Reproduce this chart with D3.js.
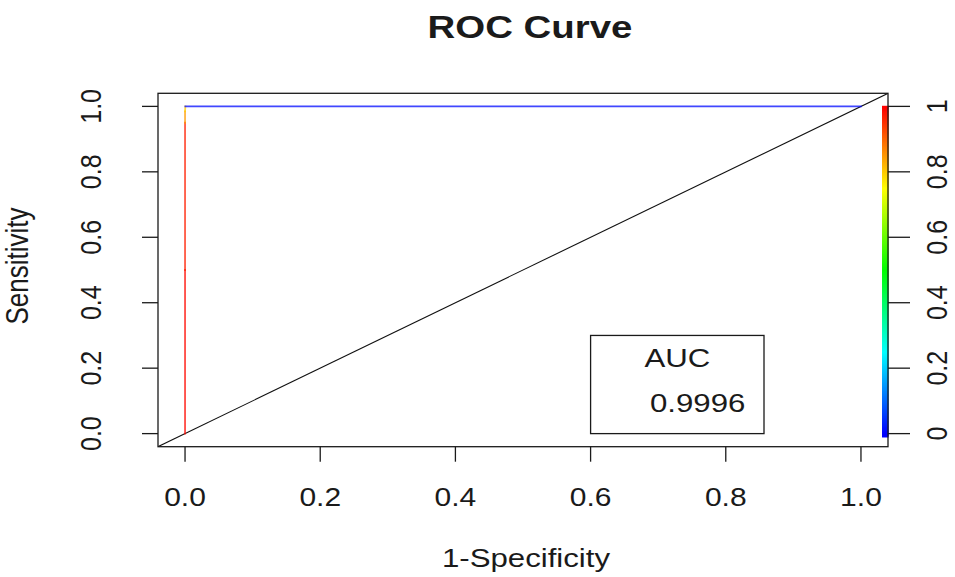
<!DOCTYPE html>
<html>
<head>
<meta charset="utf-8">
<script src="https://cdn.jsdelivr.net/npm/d3@7"></script>
<style>
  html, body { margin: 0; padding: 0; background: #fff; }
  svg { display: block; }
  text { font-family: "Liberation Sans", Arial, sans-serif; fill: #1a1a1a; }
</style>
</head>
<body>
<svg id="chart" width="955" height="577"></svg>
<script>
// ---- data ----
const fpr    = [0, 0, 0, 0, 0.0005, 1];
const tpr    = [0, 0.5, 0.95, 0.985, 1, 1];
const cutoff = [1, 0.99, 0.97, 0.85, 0.8, 0.01];
const xTicks = [0, 0.2, 0.4, 0.6, 0.8, 1.0];
const yTicks = [0, 0.2, 0.4, 0.6, 0.8, 1.0];
const cutTicks = [0, 0.2, 0.4, 0.6, 0.8, 1];
const cutTickLabels = ["0", "0.2", "0.4", "0.6", "0.8", "1"];
const aucValue = 0.9996;
const titleText = "ROC Curve";
const xLabel = "1-Specificity";
const yLabel = "Sensitivity";

// ---- layout ----
const L = 158, R = 888, T = 93.3, B = 446.7;
const SX = 1.2; // horizontal text stretch of the reference
const svg = d3.select("#chart");

const x = d3.scaleLinear().domain([-0.04, 1.04]).range([L, R]);
const y = d3.scaleLinear().domain([-0.04, 1.04]).range([B, T]);
const color = v => d3.hsl((1 - v) * 240, 1, 0.5).toString();
const cy = d3.scaleLinear().domain([0, 1]).range([y(0), y(1)]);

// clip
svg.append("clipPath").attr("id", "clip")
  .append("rect").attr("x", L).attr("y", T).attr("width", R - L).attr("height", B - T);

const plot = svg.append("g").attr("clip-path", "url(#clip)");

// diagonal (abline 0,1)
plot.append("line")
  .attr("x1", x(-0.04)).attr("y1", y(-0.04))
  .attr("x2", x(1.04)).attr("y2", y(1.04))
  .attr("stroke", "#111").attr("stroke-width", 1.1);

// colorized ROC curve
const pts = fpr.map((f, i) => ({ f, t: tpr[i], c: cutoff[i] }));
for (let i = 0; i < pts.length - 1; i++) {
  plot.append("line")
    .attr("x1", x(pts[i].f)).attr("y1", y(pts[i].t))
    .attr("x2", x(pts[i + 1].f)).attr("y2", y(pts[i + 1].t))
    .attr("stroke", color(pts[i + 1].c))
    .attr("stroke-opacity", 0.75)
    .attr("stroke-width", 1.8)
    .attr("stroke-linecap", "square");
}

// colorbar
const nCol = 256;
const bar = svg.append("g");
for (let k = 0; k < nCol; k++) {
  const v0 = -0.01 + k * 1.01 / nCol, v1 = -0.01 + (k + 1) * 1.01 / nCol;
  bar.append("rect")
    .attr("x", 882).attr("width", 6.5)
    .attr("y", cy(v1) - 0.6).attr("height", cy(v0) - cy(v1) + 1.2)
    .attr("fill", color(Math.max(0, (v0 + v1) / 2)));
}

// box
svg.append("rect").attr("x", L).attr("y", T).attr("width", R - L).attr("height", B - T)
  .attr("fill", "none").attr("stroke", "#1a1a1a").attr("stroke-width", 1.3);

// bottom axis
const gx = svg.append("g");
gx.selectAll("line").data(xTicks).join("line")
  .attr("x1", d => x(d)).attr("x2", d => x(d))
  .attr("y1", B).attr("y2", B + 15)
  .attr("stroke", "#1a1a1a").attr("stroke-width", 1.3);
gx.selectAll("text").data(xTicks).join("text")
  .attr("transform", d => `translate(${x(d)},506) scale(${SX},1)`)
  .attr("text-anchor", "middle").attr("font-size", 25)
  .text(d3.format(".1f"));

// left axis
const gy = svg.append("g");
gy.selectAll("line").data(yTicks).join("line")
  .attr("x1", L - 16).attr("x2", L)
  .attr("y1", d => y(d)).attr("y2", d => y(d))
  .attr("stroke", "#1a1a1a").attr("stroke-width", 1.3);
gy.selectAll("text").data(yTicks).join("text")
  .attr("transform", d => `translate(101,${y(d)}) scale(${SX},1) rotate(-90)`)
  .attr("text-anchor", "middle").attr("font-size", 25)
  .text(d3.format(".1f"));

// right axis (cutoff colorbar)
const gr = svg.append("g");
gr.selectAll("line").data(cutTicks).join("line")
  .attr("x1", R).attr("x2", 910)
  .attr("y1", d => cy(d)).attr("y2", d => cy(d))
  .attr("stroke", "#1a1a1a").attr("stroke-width", 1.3);
gr.selectAll("text").data(cutTicks).join("text")
  .attr("transform", d => `translate(947,${cy(d)}) scale(${SX},1) rotate(-90)`)
  .attr("text-anchor", "middle").attr("font-size", 25)
  .text((d, i) => cutTickLabels[i]);

// legend
const lgX0 = x(0.6), lgY0 = y(0.3), lgX1 = 764, lgY1 = y(0);
svg.append("rect").attr("x", lgX0).attr("y", lgY0)
  .attr("width", lgX1 - lgX0).attr("height", lgY1 - lgY0)
  .attr("fill", "#fff").attr("stroke", "#1a1a1a").attr("stroke-width", 1.3);
svg.append("text")
  .attr("transform", `translate(${(lgX0 + lgX1) / 2},366.7) scale(${SX},1)`)
  .attr("text-anchor", "middle").attr("font-size", 26).text("AUC");
svg.append("text")
  .attr("transform", `translate(650,411.7) scale(${SX},1)`)
  .attr("text-anchor", "start").attr("font-size", 26).text(aucValue.toFixed(4));

// titles
svg.append("text")
  .attr("transform", `translate(530,38.3) scale(${SX},1)`)
  .attr("text-anchor", "middle").attr("font-size", 32).attr("font-weight", "bold")
  .text(titleText);
svg.append("text")
  .attr("transform", `translate(526,567) scale(${SX},1)`)
  .attr("text-anchor", "middle").attr("font-size", 26)
  .text(xLabel);
svg.append("text")
  .attr("transform", `translate(28,266) scale(${SX},1) rotate(-90)`)
  .attr("text-anchor", "middle").attr("font-size", 26)
  .text(yLabel);
</script>
</body>
</html>
